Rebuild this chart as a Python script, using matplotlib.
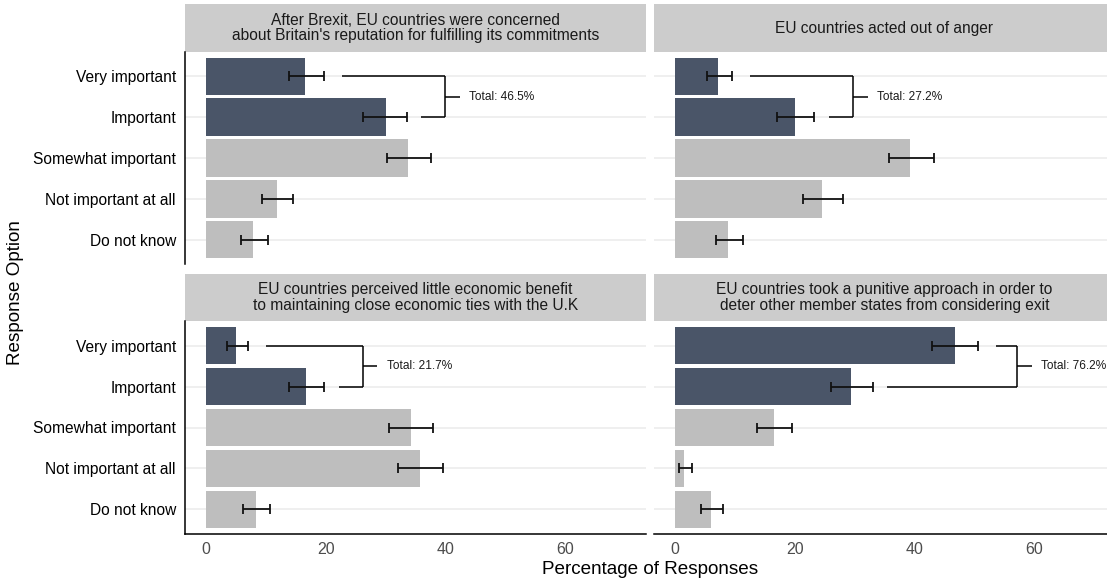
import matplotlib
matplotlib.use("Agg")
import matplotlib.pyplot as plt
import numpy as np

plt.rcParams["font.family"] = ["Liberation Sans", "DejaVu Sans"]

# ---- data -------------------------------------------------------------
categories = ["Very important", "Important", "Somewhat important",
              "Not important at all", "Do not know"]

titles = [
    "After Brexit, EU countries were concerned\nabout Britain's reputation for fulfilling its commitments",
    "EU countries acted out of anger",
    "EU countries perceived little economic benefit\nto maintaining close economic ties with the U.K",
    "EU countries took a punitive approach in order to\ndeter other member states from considering exit",
]

reputation_pct = [16.5, 30.0, 33.8, 11.8, 7.9]
reputation_lo = [13.9, 26.3, 30.2, 9.4, 5.9]
reputation_hi = [19.7, 33.5, 37.6, 14.5, 10.3]

anger_pct = [7.2, 20.0, 39.3, 24.6, 8.9]
anger_lo = [5.35, 17.1, 35.7, 21.4, 6.9]
anger_hi = [9.5, 23.3, 43.3, 28.1, 11.3]

benefit_pct = [5.0, 16.7, 34.2, 35.7, 8.4]
benefit_lo = [3.5, 13.9, 30.6, 32.1, 6.2]
benefit_hi = [7.0, 19.7, 38.0, 39.6, 10.7]

punitive_pct = [46.8, 29.4, 16.5, 1.5, 6.0]
punitive_lo = [43.0, 26.0, 13.7, 0.7, 4.35]
punitive_hi = [50.7, 33.0, 19.6, 2.9, 8.1]

x_ticks = [0, 20, 40, 60]

panels = [
    (reputation_pct, reputation_lo, reputation_hi),
    (anger_pct, anger_lo, anger_hi),
    (benefit_pct, benefit_lo, benefit_hi),
    (punitive_pct, punitive_lo, punitive_hi),
]

# ---- style ------------------------------------------------------------
DARK = "#4A5568"
LIGHT = "#BEBEBE"
STRIP = "#CCCCCC"
GRID = "#EBEBEB"

W, H = 1107, 583
fig = plt.figure(figsize=(W / 100, H / 100), dpi=100)


def frac(x0, y0, x1, y1):
    """Pixel box (top-left origin) -> figure fraction rect."""
    return [x0 / W, 1 - y1 / H, (x1 - x0) / W, (y1 - y0) / H]


panel_w = 461
col_x = [185, 654]
row_y = [(4, 52, 264), (274, 321, 534)]

xlim = (-3.5, 73.5)
ypos = np.arange(len(categories))

for idx, (pct, lo, hi) in enumerate(panels):
    r, c = divmod(idx, 2)
    x0 = col_x[c]
    x1 = x0 + panel_w
    s0, p0, p1 = row_y[r]

    # strip with facet title
    sax = fig.add_axes(frac(x0, s0, x1, p0))
    sax.set_facecolor(STRIP)
    sax.set_xticks([])
    sax.set_yticks([])
    for sp in sax.spines.values():
        sp.set_visible(False)
    sax.text(0.5, 0.5, titles[idx], ha="center", va="center",
             fontsize=11.2, color="#1A1A1A", linespacing=1.05,
             transform=sax.transAxes)

    ax = fig.add_axes(frac(x0, p0, x1, p1))
    ax.set_xlim(*xlim)
    ax.set_ylim(len(categories) - 0.4, -0.6)
    for y in ypos:
        ax.axhline(y, color=GRID, lw=1.1, zorder=0)

    colors = [DARK, DARK, LIGHT, LIGHT, LIGHT]
    ax.barh(ypos, pct, height=0.92, color=colors, zorder=2)

    pct_a = np.array(pct)
    xerr = np.vstack([pct_a - np.array(lo), np.array(hi) - pct_a])
    ax.errorbar(pct, ypos, xerr=xerr, fmt="none", ecolor="#111111",
                elinewidth=1.3, capsize=3.3, capthick=1.3, zorder=3)

    # bracket joining the two "important" rows
    total = pct[0] + pct[1]
    vert = max(hi[0], hi[1]) + 6.5
    bk = dict(color="black", lw=1.1, zorder=3, solid_capstyle="butt")
    ax.plot([hi[0] + 3.0, vert], [0, 0], **bk)
    ax.plot([hi[1] + 2.5, vert], [1, 1], **bk)
    ax.plot([vert, vert], [0, 1], **bk)
    ax.plot([vert, vert + 2.4], [0.5, 0.5], **bk)
    ax.text(vert + 4.0, 0.5, f"Total: {total:.1f}%", ha="left",
            va="center", fontsize=8.6, color="#1A1A1A", zorder=4)

    for sp in ax.spines.values():
        sp.set_visible(False)
    ax.tick_params(length=0)

    if c == 0:
        ax.spines["left"].set_visible(True)
        ax.spines["left"].set_linewidth(1.1)
        ax.set_yticks(ypos)
        ax.set_yticklabels(categories, fontsize=11.2, color="black")
        ax.tick_params(axis="y", pad=6.5)
    else:
        ax.set_yticks([])

    if r == 1:
        ax.spines["bottom"].set_visible(True)
        ax.spines["bottom"].set_linewidth(1.1)
        ax.set_xticks(x_ticks)
        ax.set_xticklabels([str(t) for t in x_ticks], fontsize=11.5,
                           color="#4D4D4D")
        ax.tick_params(axis="x", pad=5.5)
    else:
        ax.set_xticks([])

fig.text(650 / W, 1 - 569 / H, "Percentage of Responses", ha="center",
         va="center", fontsize=13.6, color="black")
fig.text(15 / W, 1 - 293 / H, "Response Option", ha="center",
         va="center", rotation=90, fontsize=13.6, color="black")

fig.savefig("out.png", dpi=100, facecolor="white")
